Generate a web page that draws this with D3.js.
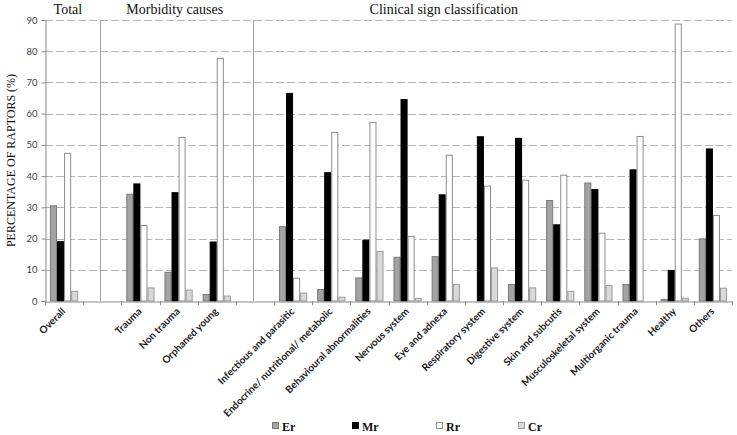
<!DOCTYPE html>
<html><head><meta charset="utf-8">
<script src="https://cdn.jsdelivr.net/npm/d3@7"></script>
<style>
html,body{margin:0;padding:0;background:#fff;}
svg{display:block;}
</style></head>
<body>
<script>
const categories = ["Overall","","Trauma","Non trauma","Orphaned young","","Infectious and parasitic","Endocrine/ nutritional/ metabolic","Behavioural  abnormalities","Nervous system","Eye and adnexa","Respiratory system","Digestive system","Skin and subcutis","Musculoskeletal system","Multiorganic trauma","Healthy","Others"];
const seriesNames = ["Er","Mr","Rr","Cr"];
const er = [30.5,null,34.2,9.2,2.1,null,23.8,3.7,7.4,14.0,14.2,0,5.3,32.2,37.8,5.3,0.5,19.9];
const mr = [19.0,null,37.5,34.7,18.9,null,66.5,41.1,19.5,64.5,34.0,52.6,52.1,24.4,35.7,42.0,9.8,48.7];
const rr = [47.3,null,24.2,52.4,77.7,null,7.3,54.0,57.2,20.7,46.7,36.8,38.7,40.3,21.7,52.7,88.7,27.4];
const cr = [3.1,null,4.2,3.5,1.6,null,2.5,1.2,15.9,0.8,5.3,10.6,4.2,3.1,5.0,0,0.9,4.1];
const yTicks = [0,10,20,30,40,50,60,70,80,90];
const sectionTitles = ["Total","Morbidity causes","Clinical sign classification"];
const yTitle = "PERCENTAGE OF RAPTORS (%)";

const W = 737, H = 435;
const m = {left:45, right:5, top:20, bottom:134};
const svg = d3.select("body").append("svg").attr("width",W).attr("height",H);

const idx = categories.map((c,i)=>i);
const x0 = d3.scaleBand().domain(idx).range([m.left, W-m.right]).padding(0);
const bw = x0.bandwidth();
const x1 = d3.scaleBand().domain(seriesNames).range([bw*0.13, bw*0.87]).padding(0);
const y = d3.scaleLinear().domain([0,90]).range([H-m.bottom, m.top]);

const fills = {Er:"#a3a3a3", Mr:"#000000", Rr:"#ffffff", Cr:"#d9d9d9"};
const strokes = {Er:"#7a7a7a", Mr:"#000000", Rr:"#8c8c8c", Cr:"#9a9a9a"};
const seriesVals = {Er:er, Mr:mr, Rr:rr, Cr:cr};

// gridlines
svg.append("g").selectAll("line").data(yTicks.filter(t=>t>0)).join("line")
  .attr("x1",m.left).attr("x2",W-m.right)
  .attr("y1",d=>Math.round(y(d))+0.5).attr("y2",d=>Math.round(y(d))+0.5)
  .attr("stroke","#b5b5b5").attr("stroke-width",1).attr("stroke-dasharray","8,3");

// separators
const sepSlots = [1.45, 5.45];
svg.append("g").selectAll("line").data(sepSlots).join("line")
  .attr("x1",d=>Math.round(m.left + d*bw)+0.5).attr("x2",d=>Math.round(m.left + d*bw)+0.5)
  .attr("y1",y(90)).attr("y2",y(0))
  .attr("stroke","#a0a0a0").attr("stroke-width",1);

// bars
const rows = [];
idx.forEach(i=>{ seriesNames.forEach(s=>{ const v = seriesVals[s][i]; if(v!==null && v>0) rows.push({i,s,v}); }); });
svg.append("g").selectAll("rect").data(rows).join("rect")
  .attr("x",d=>x0(d.i)+x1(d.s)+0.5)
  .attr("width",x1.bandwidth()-1)
  .attr("y",d=>y(d.v))
  .attr("height",d=>y(0)-y(d.v))
  .attr("fill",d=>fills[d.s]).attr("stroke",d=>strokes[d.s]).attr("stroke-width",1);

// y axis
const yAxis = d3.axisLeft(y).tickValues(yTicks).tickSize(4).tickPadding(4);
const gy = svg.append("g").attr("transform",`translate(${m.left+0.5},0)`).call(yAxis);
gy.select(".domain").attr("stroke","#8a8a8a");
gy.selectAll(".tick line").attr("stroke","#8a8a8a");
gy.selectAll(".tick text").attr("font-family","Lato, 'Liberation Sans', sans-serif").attr("font-size",9.5).attr("fill","#444");

// x axis
const xAxis = d3.axisBottom(x0).tickSize(0).tickFormat("");
const gx = svg.append("g").attr("transform",`translate(0,${Math.round(y(0))+0.5})`).call(xAxis);
gx.select(".domain").attr("stroke","#8a8a8a");
gx.selectAll(".tick").remove();
// boundary ticks
const bounds = d3.range(categories.length+1);
svg.append("g").selectAll("line").data(bounds).join("line")
  .attr("x1",d=>Math.round(m.left+d*bw)+0.5).attr("x2",d=>Math.round(m.left+d*bw)+0.5)
  .attr("y1",y(0)).attr("y2",y(0)+4).attr("stroke","#8a8a8a");

// category labels
svg.append("g").selectAll("text").data(idx.filter(i=>categories[i]!=="")).join("text")
  .attr("transform",i=>`translate(${x0(i)+bw/2+2},${y(0)+11}) rotate(-45)`)
  .attr("text-anchor","end")
  .attr("font-family","Lato, 'Liberation Sans', sans-serif")
  .attr("font-weight","bold").attr("font-size",10).attr("fill","#1a1a1a")
  .text(i=>categories[i]);

// section titles
const titleSlots = [0.6, 3.4, 10.45];
svg.append("g").selectAll("text").data(sectionTitles).join("text")
  .attr("x",(d,i)=>m.left + titleSlots[i]*bw).attr("y",14)
  .attr("text-anchor","middle")
  .attr("font-family","'Liberation Serif','Times New Roman',serif").attr("font-size",14).attr("fill","#111")
  .text(d=>d);

// y title
svg.append("text").attr("transform",`translate(15,${(y(0)+y(90))/2}) rotate(-90)`)
  .attr("text-anchor","middle")
  .attr("font-family","'Liberation Serif','Times New Roman',serif").attr("font-size",12).attr("fill","#111")
  .text(yTitle);

// legend
const legX = [272, 352, 436, 518];
const lg = svg.append("g").selectAll("g").data(seriesNames).join("g")
  .attr("transform",(d,i)=>`translate(${legX[i]},428)`);
lg.append("rect").attr("x",0.5).attr("y",-5.5).attr("width",6).attr("height",6)
  .attr("fill",d=>fills[d]).attr("stroke",d=>strokes[d]);
lg.append("text").attr("x",10).attr("y",3)
  .attr("font-family","'Liberation Serif','Times New Roman',serif").attr("font-weight","bold").attr("font-size",12).attr("fill","#111")
  .text(d=>d);
</script>
</body></html>
